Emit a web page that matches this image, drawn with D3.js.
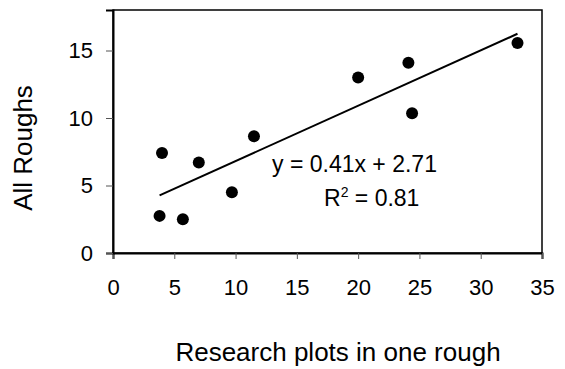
<!DOCTYPE html>
<html>
<head>
<meta charset="utf-8">
<script src="https://cdn.jsdelivr.net/npm/d3@7"></script>
<style>
  body { margin: 0; background: #fff; }
  svg text { font-family: "Liberation Sans", Arial, sans-serif; fill: #000; }
</style>
</head>
<body>
<div id="chart"></div>
<script>
// research plots (x) vs all roughs (y)
const plotsX  = [3.8, 4.0, 5.7, 7.0, 9.7, 11.5, 20.0, 24.1, 24.4, 33.0];
const roughsY = [2.75, 7.4, 2.5, 6.7, 4.5, 8.65, 13.0, 14.1, 10.35, 15.55];
const xTicks = [0, 5, 10, 15, 20, 25, 30, 35];
const yTicks = [0, 5, 10, 15];
const slope = 0.41, intercept = 2.71, rSquared = 0.81;

const width = 565, height = 369;
const margin = {top: 10, right: 23, bottom: 116, left: 113};

const svg = d3.select("#chart").append("svg")
  .attr("width", width)
  .attr("height", height);

const x = d3.scaleLinear().domain([0, 35]).range([margin.left, width - margin.right]);
const y = d3.scaleLinear().domain([0, 18]).range([height - margin.bottom, margin.top]);

// frame
svg.append("rect")
  .attr("x", x(0)).attr("y", y(18))
  .attr("width", x(35) - x(0)).attr("height", y(0) - y(18))
  .attr("fill", "none").attr("stroke", "#000").attr("stroke-width", 1.5);

const xAxis = svg.append("g")
  .attr("transform", "translate(0," + y(0) + ")")
  .call(d3.axisBottom(x).tickValues(xTicks).tickSize(6).tickPadding(20).tickFormat(d3.format("d")));
const yAxis = svg.append("g")
  .attr("transform", "translate(" + x(0) + ",0)")
  .call(d3.axisLeft(y).tickValues(yTicks).tickSize(7).tickPadding(13).tickFormat(d3.format("d")));

[xAxis, yAxis].forEach(g => {
  g.select(".domain").attr("stroke", "#000").attr("stroke-width", 2);
  g.selectAll(".tick line").attr("stroke", "#555").attr("stroke-width", 1);
  g.selectAll(".tick text").attr("font-size", 22).attr("fill", "#000")
    .style("font-family", "'Liberation Sans', Arial, sans-serif");
});

// trend line
const xMin = d3.min(plotsX), xMax = d3.max(plotsX);
svg.append("line")
  .attr("x1", x(xMin)).attr("y1", y(slope * xMin + intercept))
  .attr("x2", x(xMax)).attr("y2", y(slope * xMax + intercept))
  .attr("stroke", "#000").attr("stroke-width", 2);

// points
svg.selectAll("circle.pt")
  .data(plotsX.map((v, i) => [v, roughsY[i]]))
  .enter().append("circle")
  .attr("class", "pt")
  .attr("cx", d => x(d[0]))
  .attr("cy", d => y(d[1]))
  .attr("r", 6)
  .attr("fill", "#000");

// equation
svg.append("text")
  .attr("x", 272).attr("y", 172)
  .attr("font-size", 23)
  .text("y = " + slope + "x + " + intercept);

const r2 = svg.append("text")
  .attr("x", 324).attr("y", 206)
  .attr("font-size", 23);
r2.append("tspan").text("R");
r2.append("tspan").attr("font-size", 14).attr("dy", -9).text("2");
r2.append("tspan").attr("dy", 9).text(" = " + rSquared);

// axis titles
svg.append("text")
  .attr("x", 338).attr("y", 361)
  .attr("text-anchor", "middle")
  .attr("font-size", 26)
  .text("Research plots in one rough");

svg.append("text")
  .attr("transform", "translate(32," + 148 + ") rotate(-90)")
  .attr("text-anchor", "middle")
  .attr("font-size", 26)
  .text("All Roughs");
</script>
</body>
</html>
